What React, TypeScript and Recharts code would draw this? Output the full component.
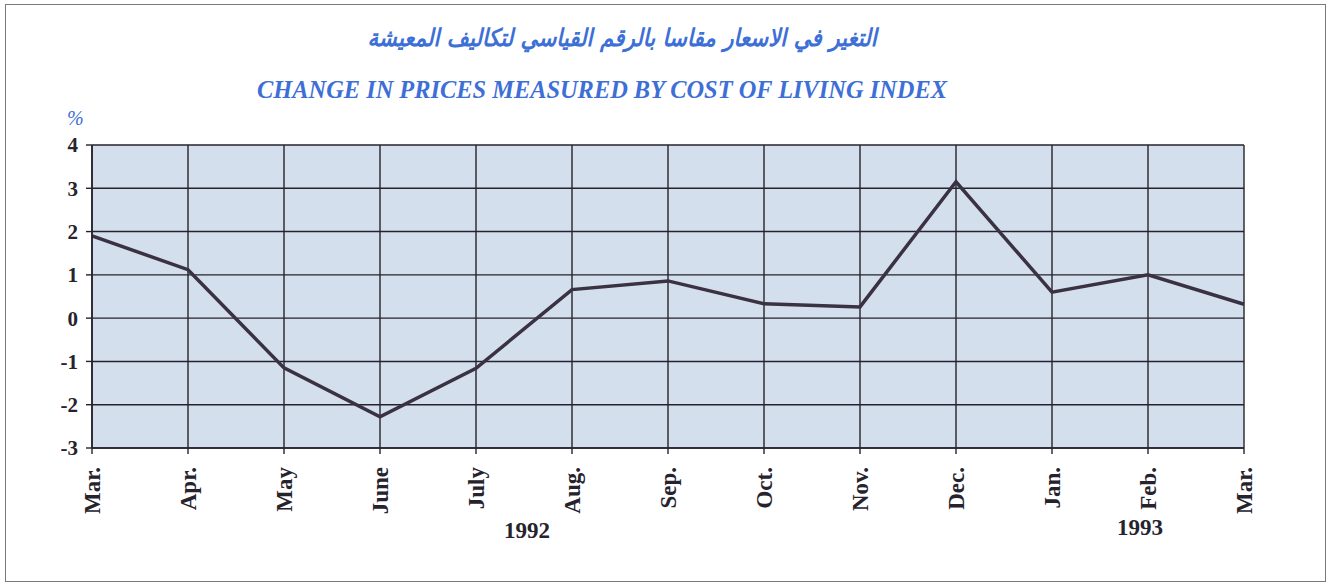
import React from 'react';
import { CartesianGrid, Line, LineChart, XAxis, YAxis } from 'recharts';

// Cost-of-living index change, monthly, Mar 1992 – Mar 1993
const MONTHS = ['Mar.', 'Apr.', 'May', 'June', 'July', 'Aug.', 'Sep.', 'Oct.', 'Nov.', 'Dec.', 'Jan.', 'Feb.', 'Mar.'];
const CHANGE = [1.9, 1.12, -1.15, -2.28, -1.16, 0.66, 0.86, 0.33, 0.26, 3.15, 0.6, 1.0, 0.32];
const Y_TICKS = [-3, -2, -1, 0, 1, 2, 3, 4];
const YEARS = [
  { label: '1992', left: 527, top: 518 },
  { label: '1993', left: 1140, top: 515 },
];

const TITLE_AR = 'التغير في الاسعار مقاسا بالرقم القياسي لتكاليف المعيشة';
const TITLE_EN = 'CHANGE IN PRICES MEASURED BY COST OF LIVING INDEX';

const INK = '#26232c';
const BLUE = '#3d6fd6';
const PLOT_BG = '#d3dfec';
const SERIF = '"Liberation Serif", "Times New Roman", serif';

const data = MONTHS.map((m, i) => ({ key: `${m}-${i}`, month: m, value: CHANGE[i] }));

function MonthTick({ x, y, payload }: { x?: number; y?: number; payload?: { value: string } }) {
  const label = payload ? payload.value.split('-')[0] : '';
  return (
    <text
      x={0}
      y={0}
      transform={`translate(${x},${(y ?? 0) + 11}) rotate(-90)`}
      textAnchor="end"
      dy="0.36em"
      fill={INK}
      fontFamily={SERIF}
      fontWeight={700}
      fontSize={23}
    >
      {label}
    </text>
  );
}

export default function App() {
  return (
    <div style={{ position: 'absolute', left: 0, top: 0, width: 1332, height: 585, background: '#fff' }}>
      <div
        style={{
          position: 'absolute',
          left: 5,
          top: 4,
          width: 1319,
          height: 576,
          border: '1.5px solid #7a7a7a',
        }}
      />
      <div
        dir="rtl"
        style={{
          position: 'absolute',
          left: 322,
          width: 600,
          top: 24,
          textAlign: 'center',
          color: BLUE,
          fontFamily: '"DejaVu Sans", sans-serif',
          fontWeight: 700,
          fontStyle: 'italic',
          fontSize: 24,
          whiteSpace: 'nowrap',
          transform: 'scaleX(0.89)',
        }}
      >
        {TITLE_AR}
      </div>
      <div
        style={{
          position: 'absolute',
          left: 0,
          width: 1204,
          top: 76,
          textAlign: 'center',
          color: BLUE,
          fontFamily: SERIF,
          fontStyle: 'italic',
          fontWeight: 700,
          fontSize: 24.4,
          whiteSpace: 'nowrap',
        }}
      >
        {TITLE_EN}
      </div>
      <div
        style={{
          position: 'absolute',
          left: 67,
          top: 107,
          color: BLUE,
          fontFamily: SERIF,
          fontStyle: 'italic',
          fontSize: 20,
        }}
      >
        %
      </div>
      {YEARS.map((y) => (
        <div
          key={y.label}
          style={{
            position: 'absolute',
            left: y.left - 40,
            width: 80,
            top: y.top,
            textAlign: 'center',
            color: INK,
            fontFamily: SERIF,
            fontWeight: 700,
            fontSize: 23,
          }}
        >
          {y.label}
        </div>
      ))}
      <div style={{ position: 'absolute', left: 0, top: 0 }}>
        <LineChart width={1332} height={585} data={data} margin={{ top: 145, right: 88, bottom: 57, left: 32 }}>
          <CartesianGrid stroke={INK} strokeWidth={1.4} fill={PLOT_BG} horizontal vertical />
          <XAxis
            dataKey="key"
            interval={0}
            height={80}
            tickSize={6}
            tickLine={{ stroke: INK, strokeWidth: 1.4 }}
            axisLine={{ stroke: INK, strokeWidth: 1.6 }}
            tick={<MonthTick />}
          />
          <YAxis
            domain={[-3, 4]}
            ticks={Y_TICKS}
            width={60}
            tickSize={6}
            tickLine={{ stroke: INK, strokeWidth: 1.4 }}
            axisLine={{ stroke: INK, strokeWidth: 1.6 }}
            tick={{ fill: INK, fontFamily: SERIF, fontWeight: 700, fontSize: 21, dx: -6 }}
          />
          <Line
            type="linear"
            dataKey="value"
            stroke="#3a3142"
            strokeWidth={3.5}
            dot={false}
            isAnimationActive={false}
          />
        </LineChart>
      </div>
    </div>
  );
}
